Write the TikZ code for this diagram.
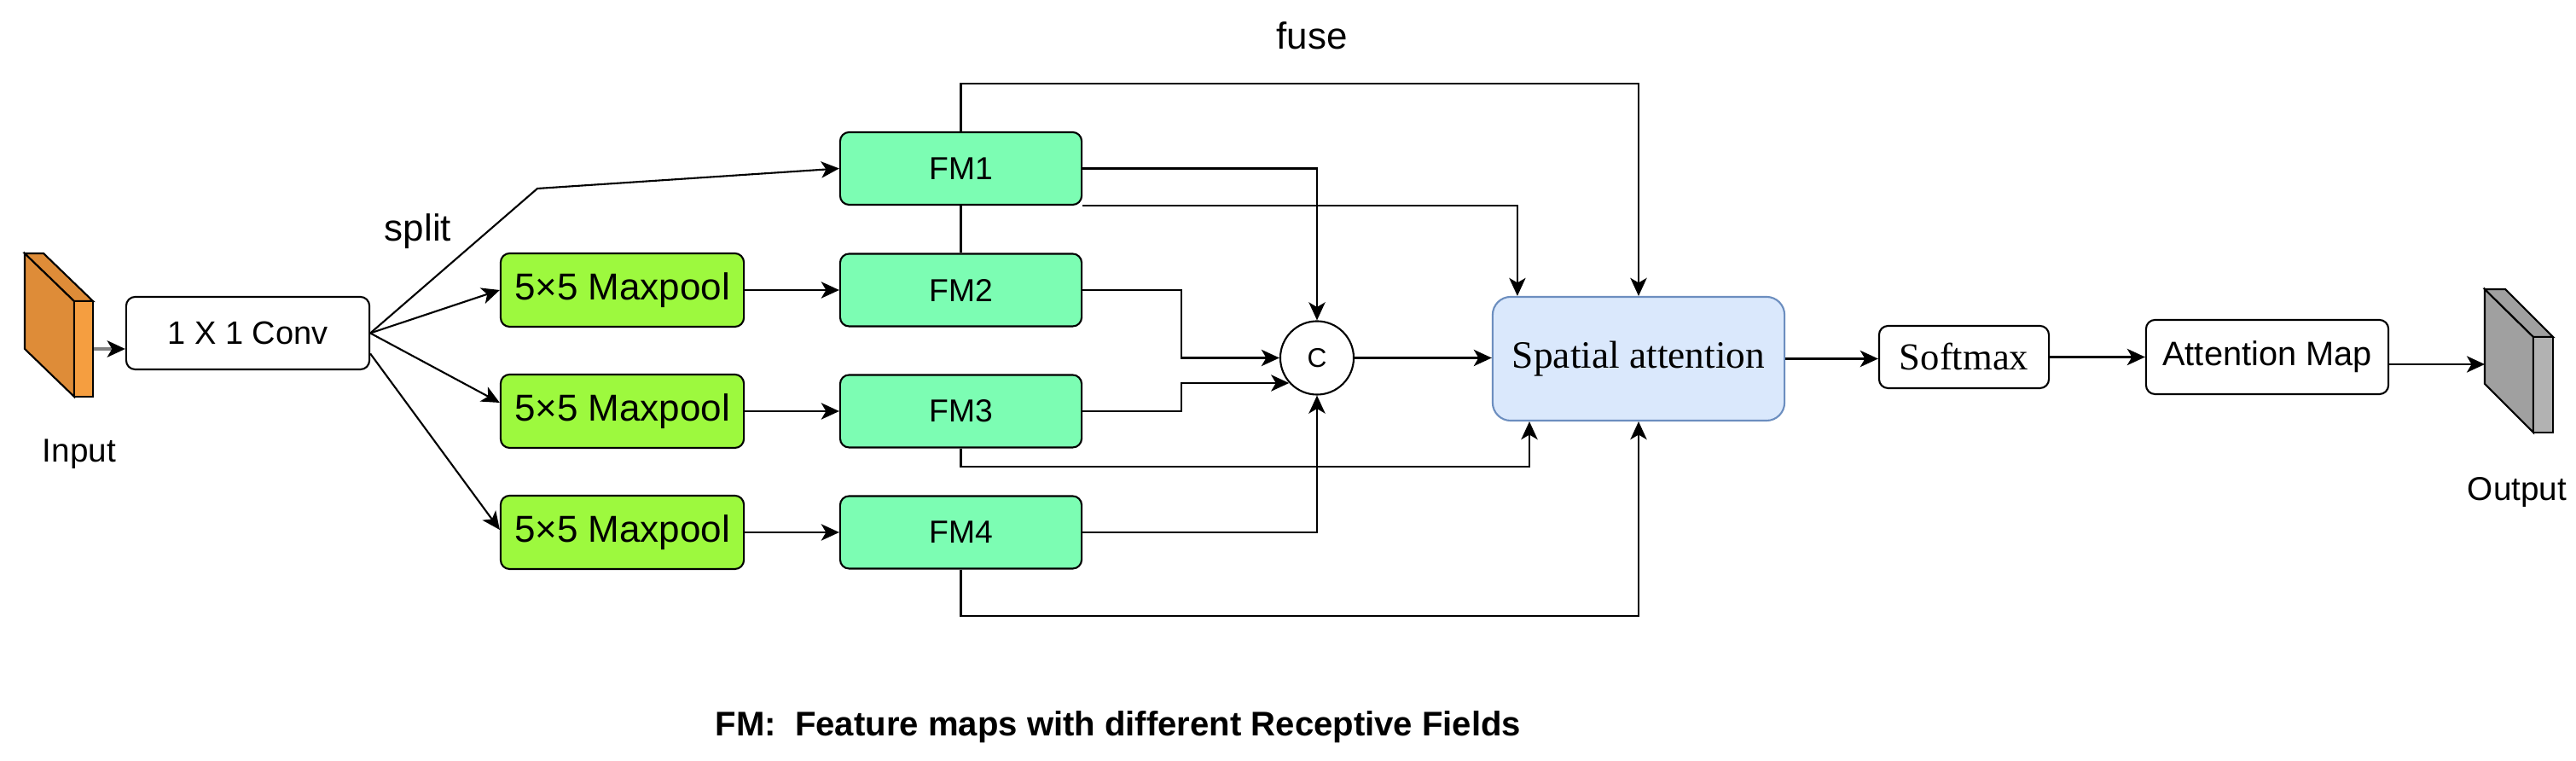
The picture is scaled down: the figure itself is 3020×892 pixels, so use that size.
\documentclass[tikz,border=0pt]{standalone}
\usepackage{fontspec}
\setmainfont{Liberation Sans}
\newfontfamily\myserif{Liberation Serif}
\usetikzlibrary{arrows.meta}
\definecolor{mpfill}{HTML}{9DF93E}
\definecolor{fmfill}{HTML}{7CFDB3}
\definecolor{safill}{HTML}{DAE8FC}
\definecolor{sadraw}{HTML}{6C8EBF}
\definecolor{inleft}{HTML}{DE8C38}
\definecolor{infront}{HTML}{F59E40}
\definecolor{outleft}{HTML}{A0A0A0}
\definecolor{outfront}{HTML}{B2B2B2}
\newcommand\fsConv{\fontsize{10.8pt}{13pt}\selectfont}
\newcommand\fsMp{\fontsize{12.5pt}{15pt}\selectfont}
\newcommand\fsFm{\fontsize{10.6pt}{13pt}\selectfont}
\newcommand\fsC{\fontsize{9pt}{11pt}\selectfont}
\newcommand\fsSa{\myserif\fontsize{12.9pt}{15pt}\selectfont}
\newcommand\fsSm{\myserif\fontsize{12.7pt}{15pt}\selectfont}
\newcommand\fsAm{\fontsize{11.3pt}{13pt}\selectfont}
\newcommand\fsLbl{\fontsize{11pt}{13pt}\selectfont}
\newcommand\fsBig{\fontsize{12.5pt}{15pt}\selectfont}
\newcommand\fsCap{\bfseries\fontsize{11.4pt}{14pt}\selectfont}
\begin{document}
\begin{tikzpicture}[x=0.01cm,y=-0.01cm,
  box/.style={draw=black, line width=0.6pt, rounded corners=3pt, inner sep=0pt, align=center},
  mpbox/.style={box, fill=mpfill, minimum width=28.5mm, minimum height=8.6mm, font=\fsMp},
  fmbox/.style={box, fill=fmfill, minimum width=28.3mm, minimum height=8.5mm, font=\fsFm},
  ln/.style={line width=0.6pt, draw=black},
  arr/.style={ln, -{Stealth[length=6pt,width=5.5pt,inset=1.6pt]}},
  lbl/.style={inner sep=0pt, anchor=base}]
\useasboundingbox[fill=white] (0,0) rectangle (3020,892);

% input block
\filldraw[fill=inleft, line width=0.6pt] (29,297) -- (87,353) -- (87,465) -- (29,409) -- cycle;
\filldraw[fill=inleft, line width=0.6pt] (29,297) -- (51,297) -- (109,353) -- (87,353) -- cycle;
\node[draw=black, line width=0.6pt, fill=infront, minimum width=2.2mm, minimum height=11.2mm, inner sep=0pt] (in) at (98,409) {};
\node[lbl, font=\fsLbl] (inlbl) at (93,542) {Input};

% conv
\node[box, minimum width=28.5mm, minimum height=8.5mm, font=\fsConv] (conv) at (290.5,390.5) {1 X 1 Conv};
\node[lbl, font=\fsBig] (split) at (490,283) {split};

% maxpools
\node[mpbox] (mp1) at (729.5,340) {5×5 Maxpool};
\node[mpbox] (mp2) at (729.5,482) {5×5 Maxpool};
\node[mpbox] (mp3) at (729.5,624) {5×5 Maxpool};

% feature maps
\node[fmbox] (fm1) at (1126.5,197.5) {FM1};
\node[fmbox] (fm2) at (1126.5,340) {FM2};
\node[fmbox] (fm3) at (1126.5,482) {FM3};
\node[fmbox] (fm4) at (1126.5,624) {FM4};

% concat
\node[circle, draw=black, line width=0.6pt, fill=white, minimum size=8.6mm, inner sep=0pt, font=\fsC] (cc) at (1544,419.5) {C};

% spatial attention
\node[box, draw=sadraw, fill=safill, rounded corners=6pt, minimum width=34.2mm, minimum height=14.5mm, font=\fsSa] (sa) at (1921,420.5) {Spatial attention};
\node[lbl, font=\fsBig] (fuse) at (1538,58) {fuse};

% softmax, attention map
\node[box, fill=white, minimum width=19.9mm, minimum height=7.3mm, font=\fsSm] (sm) at (2302.5,418.5) {Softmax};
\node[box, fill=white, minimum width=28.4mm, minimum height=8.7mm, font=\fsAm] (am) at (2658,418.5) {Attention Map};

% output block
\filldraw[fill=outleft, line width=0.6pt] (2913,339) -- (2970,395) -- (2970,507) -- (2913,450) -- cycle;
\filldraw[fill=outleft, line width=0.6pt] (2913,339) -- (2937,339) -- (2993,395) -- (2970,395) -- cycle;
\node[draw=black, line width=0.6pt, fill=outfront, minimum width=2.3mm, minimum height=11.2mm, inner sep=0pt] (out) at (2981.5,451) {};
\coordinate (outp) at (2913,427);
\node[lbl, font=\fsLbl] (outlbl) at (2951,587) {Output};

% caption
\node[inner sep=0pt, anchor=base west, font=\fsCap] (cap) at (838,863) {FM:\ \ Feature maps with different Receptive Fields};

% helper coordinates
\coordinate (bend) at (630,221);
\coordinate (jx) at (1385,0);
\coordinate (fy) at (1921,98);
\coordinate (f3c) at (1793,547);
\coordinate (f4c) at (1921,722);

% connectors
\draw[line width=1.2pt, draw=black!50, -{Stealth[length=6pt,width=5.5pt,inset=1.6pt,color=black]}] (in.east) -- (in.east -| conv.west);
\draw[arr] (conv.east) -- (bend) -- (fm1.west);
\draw[arr] (conv.east) -- (mp1.west);
\draw[arr] (conv.east) -- ([yshift=1mm]mp2.west);
\draw[arr] ([yshift=-2.4mm]conv.east) -- ([yshift=0.3mm]mp3.west);

\draw[arr] (mp1.east) -- (fm2.west);
\draw[arr] (mp2.east) -- (fm3.west);
\draw[arr] (mp3.east) -- (fm4.west);

\draw[ln] (fm2.north) -- (fm1.south);
\draw[arr] (fm1.north) |- (fy) -- (sa.north);
\draw[arr] (fm1.east) -| (cc.north);
\draw[arr] (fm1.south east) -| ([xshift=-14.2mm]sa.north);
\draw[arr] (fm2.east) -- (fm2.east -| jx) |- (cc.west);
\draw[arr] (fm3.east) -- (fm3.east -| jx) |- (cc.222);
\draw[arr] (fm3.south) |- (f3c) -- (f3c |- sa.south);
\draw[arr] (fm4.east) -| (cc.south);
\draw[arr] (fm4.south) |- (f4c) -- (sa.south);
\draw[arr] (cc.east) -- (cc.east -| sa.west);
\draw[arr] (sa.east) -- (sa.east -| sm.west);
\draw[arr] (sm.east) -- (am.west);
\draw[arr] (am.east |- outp) -- (outp);
\end{tikzpicture}
\end{document}
